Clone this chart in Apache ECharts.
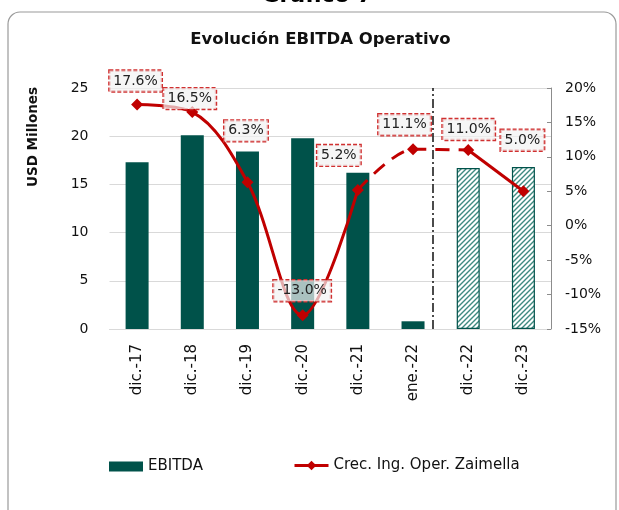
<!DOCTYPE html>
<html>
<head>
<meta charset="utf-8">
<script src="https://cdn.jsdelivr.net/npm/echarts@6/dist/echarts.min.js"></script>
<style>
html,body{margin:0;padding:0;background:#fff;}
#chart{width:619px;height:510px;}
</style>
</head>
<body>
<div id="chart"></div>
<script>
// ---- data ----
const categories = ['dic.-17','dic.-18','dic.-19','dic.-20','dic.-21','ene.-22','dic.-22','dic.-23'];
const ebitda = [17.3, 20.1, 18.4, 19.8, 16.2, 0.8, 16.7, 16.8];
const growth = [17.6, 16.5, 6.3, -13.0, 5.2, 11.1, 11.0, 5.0];
const leftTicks = {min: 0, max: 25, interval: 5};
const rightTicks = {min: -15, max: 20, interval: 5};

// ---- styling helpers ----
const FONT = 'DejaVu Sans';
const TEAL = '#00524A';
const RED = '#C00000';
const projectedFrom = 6;      // bars from this index are projections (hatched)
const dashFrom = 4, dashTo = 6; // dashed growth segment

function hatch() {
  const c = document.createElement('canvas');
  c.width = 5; c.height = 5;
  const g = c.getContext('2d');
  g.fillStyle = '#ffffff';
  g.fillRect(0, 0, 5, 5);
  g.strokeStyle = '#3f8a80';
  g.lineWidth = 1.4;
  g.beginPath();
  g.moveTo(-1, 6); g.lineTo(6, -1);
  g.moveTo(-1, 1); g.lineTo(1, -1);
  g.moveTo(4, 6); g.lineTo(6, 4);
  g.stroke();
  return c;
}
const hatchImg = hatch();

const labelOffsets = [[-1.5,-23.5],[-2.5,-13.5],[-1.5,-51.5],[-0.5,-24.5],[-19,-34.5],[-8.5,-24.5],[0.5,-20.5],[-1,-51]];

const barData = ebitda.map((v, i) => i >= projectedFrom ? {
  value: v,
  itemStyle: {color: {image: hatchImg, repeat: 'repeat'}, borderColor: TEAL, borderWidth: 1.2}
} : {value: v});

const labelData = growth.map((v, i) => ({
  value: v,
  label: {offset: labelOffsets[i]}
}));

const solidA = growth.map((v, i) => i <= dashFrom ? v : null);
const dashed = growth.map((v, i) => (i >= dashFrom && i <= dashTo) ? v : null);
const solidB = growth.map((v, i) => i >= dashTo ? v : null);

const chart = echarts.init(document.getElementById('chart'), null, {renderer: 'canvas'});
const lineName = 'Crec. Ing. Oper. Zaimella';

chart.setOption({
  animation: false,
  textStyle: {fontFamily: FONT},
  title: [{
    text: 'Evolución EBITDA Operativo',
    left: 315.5, top: 26, textAlign: 'center',
    textStyle: {fontFamily: FONT, fontSize: 16.5, fontWeight: 'bold', color: '#111'}
  }, {
    text: 'Gráfico 7',
    left: 312, top: -20, textAlign: 'center',
    textStyle: {fontFamily: FONT, fontSize: 22, fontWeight: 'bold', color: '#000'}
  }],
  graphic: [{
    type: 'rect', z: -10, silent: true,
    shape: {x: 8, y: 12, width: 608, height: 520, r: 12},
    style: {fill: 'none', stroke: '#9a9a9a', lineWidth: 1.2}
  }, {
    type: 'text', x: 33, y: 137, rotation: Math.PI / 2,
    style: {text: 'USD Millones', fontFamily: FONT, fontSize: 13.5, fontWeight: 'bold', fill: '#111', align: 'center', verticalAlign: 'middle'}
  }],
  legend: [{
    left: 109, top: 459, padding: 0, itemWidth: 34, itemHeight: 10,
    data: [{name: 'EBITDA', icon: 'rect'}],
    textStyle: {fontFamily: FONT, fontSize: 15, color: '#111'}
  }, {
    left: 293, top: 458, padding: 0, itemWidth: 34, itemHeight: 12,
    data: [lineName],
    lineStyle: {opacity: 1, color: RED, width: 3},
    textStyle: {fontFamily: FONT, fontSize: 15, color: '#111'}
  }],
  grid: {left: 109.5, right: 68, top: 88, bottom: 181},
  xAxis: [{
    type: 'category', data: categories, boundaryGap: true,
    axisLine: {show: true, lineStyle: {color: '#d9d9d9', width: 1}},
    axisTick: {show: false},
    axisLabel: {rotate: 90, fontSize: 15, color: '#111', margin: 15, fontFamily: FONT}
  }, {
    type: 'value', min: 0, max: 8, show: false
  }],
  yAxis: [{
    type: 'value', min: leftTicks.min, max: leftTicks.max, interval: leftTicks.interval,
    axisLine: {show: false}, axisTick: {show: false},
    axisLabel: {fontSize: 14, color: '#111', margin: 21, fontFamily: FONT},
    splitLine: {show: true, lineStyle: {color: '#d9d9d9', width: 1.2}}
  }, {
    type: 'value', min: rightTicks.min, max: rightTicks.max, interval: rightTicks.interval,
    position: 'right',
    axisLine: {show: true, lineStyle: {color: '#8c8c8c', width: 1}},
    axisTick: {show: true, inside: true, length: 4, lineStyle: {color: '#8c8c8c'}},
    axisLabel: {fontSize: 14, color: '#111', margin: 14, formatter: '{value}%', fontFamily: FONT},
    splitLine: {show: false}
  }],
  series: [{
    name: 'EBITDA', type: 'bar', data: barData, barWidth: 23,
    itemStyle: {color: TEAL}, z: 2
  }, {
    name: 'divider', type: 'scatter', xAxisIndex: 1, yAxisIndex: 0,
    data: [], symbolSize: 0, silent: true,
    markLine: {
      silent: true, symbol: 'none', label: {show: false},
      lineStyle: {color: '#111', width: 1.5, type: [9, 3, 2, 3]},
      data: [{xAxis: 5.85}]
    }
  }, {
    name: 'segA', type: 'line', yAxisIndex: 1, data: solidA, smooth: 0.35,
    showSymbol: false, lineStyle: {color: RED, width: 3}, z: 3, connectNulls: false
  }, {
    name: 'segDash', type: 'line', yAxisIndex: 1, data: dashed, smooth: 0.3,
    showSymbol: false, lineStyle: {color: RED, width: 3, type: [14, 9]}, z: 3
  }, {
    name: 'segB', type: 'line', yAxisIndex: 1, data: solidB,
    showSymbol: false, lineStyle: {color: RED, width: 3}, z: 3
  }, {
    name: lineName, type: 'line', yAxisIndex: 1, data: labelData,
    symbol: 'diamond', symbolSize: 12, showSymbol: true,
    itemStyle: {color: RED},
    lineStyle: {color: RED, width: 3, opacity: 0},
    z: 4,
    label: {
      show: true, position: 'inside',
      formatter: p => p.value.toFixed(1) + '%',
      fontFamily: FONT, fontSize: 14, color: '#222',
      backgroundColor: 'rgba(242,242,242,0.7)',
      borderColor: '#D03030', borderWidth: 1.2, borderType: [4, 2],
      padding: [4, 4, 3, 4]
    }
  }]
});
</script>
</body>
</html>
